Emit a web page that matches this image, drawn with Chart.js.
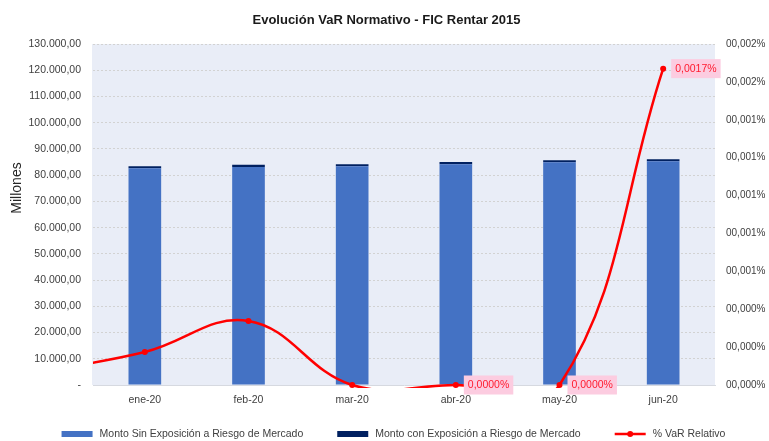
<!DOCTYPE html>
<html><head><meta charset="utf-8">
<script src="https://cdn.jsdelivr.net/npm/chart.js@4.4.0/dist/chart.umd.min.js"></script>
<style>html,body{margin:0;padding:0;background:#fff}#wrap{width:769px;height:441px;position:relative}</style>
</head><body><div id="wrap"><canvas id="c" width="769" height="441"></canvas></div>
<script>
// ---- data ----
const months = ['dic-19','ene-20','feb-20','mar-20','abr-20','may-20','jun-20'];
const firstVisibleMonth = 'ene-20';
const montoSinExposicion = [null, 82650, 83100, 83420, 84200, 84880, 85260];
const montoConExposicion = [null, 700, 880, 720, 820, 780, 780];
const varRelativo = [0.00007, 0.000174, 0.000338, 0, 0, 0, 0.00167]; // percent
const labeledMonths = ['abr-20','may-20','jun-20'];
const seriesNames = ['Monto Sin Exposición a Riesgo de Mercado','Monto con Exposición a Riesgo de Mercado','% VaR Relativo'];
const chartTitle = 'Evolución VaR Normativo - FIC Rentar 2015';
const yTitle = 'Millones';
const leftAxis = {min: 0, max: 130000, step: 10000};
const rightAxis = {min: 0, max: 0.0018, step: 0.0002};

// ---- styling ----
const FONT = "'Liberation Sans', Arial, sans-serif";
const TXT = '#404040';
const C_SIN = '#4472C4', C_CON = '#002060', C_VAR = '#FF0000';
Chart.defaults.font.family = FONT;

function fmtMiles(v){
  if (v === 0) return '-';
  const s = Math.round(v).toString().replace(/\B(?=(\d{3})+(?!\d))/g, '.');
  return s + ',00';
}
function fmtPctAxis(v){ return '0' + v.toFixed(3).replace('.', ',') + '%'; }
function fmtPctLabel(v){ return v.toFixed(4).replace('.', ',') + '%'; }

const plotBg = {
  id: 'plotBg',
  beforeDraw(chart){
    const {ctx, chartArea: a} = chart;
    ctx.save(); ctx.fillStyle = '#E9EDF7';
    ctx.fillRect(a.left - 1, a.top, a.right - a.left + 1, a.bottom - a.top);
    ctx.restore();
  }
};

const texts = {
  id: 'texts',
  afterDraw(chart){
    const {ctx} = chart;
    ctx.save();
    // title
    ctx.font = 'bold 13px ' + FONT;
    ctx.fillStyle = '#1a1a1a';
    ctx.textAlign = 'center'; ctx.textBaseline = 'middle';
    ctx.fillText(chartTitle, chart.width / 2 + 2, 20);
    // y axis title
    ctx.save();
    ctx.translate(17, 188); ctx.rotate(-Math.PI / 2);
    ctx.font = '14px ' + FONT; ctx.fillStyle = '#262626';
    ctx.fillText(yTitle, 0, 0);
    ctx.restore();
    // legend
    ctx.font = '10.5px ' + FONT;
    const symW = 31, gapT = 7, gapI = 34;
    const widths = seriesNames.map(n => ctx.measureText(n).width);
    const total = widths.reduce((s, w) => s + symW + gapT + w, 0) + gapI * (seriesNames.length - 1);
    let x = (chart.width - total) / 2 + 9;
    const y = 434;
    const colors = [C_SIN, C_CON, C_VAR];
    seriesNames.forEach((n, i) => {
      if (i < 2) {
        ctx.fillStyle = colors[i];
        ctx.fillRect(x, y - 3, symW, 6);
      } else {
        ctx.strokeStyle = C_VAR; ctx.lineWidth = 2.5;
        ctx.beginPath(); ctx.moveTo(x, y); ctx.lineTo(x + symW, y); ctx.stroke();
        ctx.fillStyle = C_VAR;
        ctx.beginPath(); ctx.arc(x + symW / 2, y, 3, 0, Math.PI * 2); ctx.fill();
      }
      ctx.fillStyle = TXT; ctx.textAlign = 'left'; ctx.textBaseline = 'middle';
      ctx.fillText(n, x + symW + gapT, y);
      x += symW + gapT + widths[i] + gapI;
    });
    ctx.restore();
  }
};

const dataLabels = {
  id: 'dataLabels',
  afterDatasetsDraw(chart){
    const {ctx} = chart;
    const meta = chart.getDatasetMeta(0);
    ctx.save();
    ctx.font = '10.5px ' + FONT;
    ctx.textAlign = 'left'; ctx.textBaseline = 'middle';
    months.forEach((m, i) => {
      if (!labeledMonths.includes(m)) return;
      const p = meta.data[i];
      if (!p) return;
      const txt = fmtPctLabel(varRelativo[i]);
      const w = ctx.measureText(txt).width + 8;
      const bx = p.x + 8, by = p.y - 9.5;
      ctx.fillStyle = '#FCCCE0';
      ctx.fillRect(bx, by, w, 19);
      ctx.fillStyle = '#FF1A2E';
      ctx.fillText(txt, bx + 4, p.y + 0.5);
    });
    ctx.restore();
  }
};

new Chart(document.getElementById('c'), {
  data: {
    labels: months,
    datasets: [
      {type: 'line', label: seriesNames[2], data: varRelativo, yAxisID: 'y1', order: 0,
       borderColor: C_VAR, backgroundColor: C_VAR, borderWidth: 2.5, tension: 0.4,
       capBezierPoints: false,
       pointRadius: 3, pointBackgroundColor: C_VAR, pointBorderWidth: 0,
       clip: {left: 0, top: 10, right: 10, bottom: 3}},
      {type: 'bar', label: seriesNames[0], data: montoSinExposicion, yAxisID: 'y', order: 1,
       backgroundColor: C_SIN, barPercentage: 1, categoryPercentage: 0.315},
      {type: 'bar', label: seriesNames[1], data: montoConExposicion, yAxisID: 'y', order: 1,
       backgroundColor: C_CON, barPercentage: 1, categoryPercentage: 0.315}
    ]
  },
  options: {
    responsive: false, animation: false,
    layout: {padding: {top: 44, bottom: 30, left: 0, right: 0}},
    elements: {line: {capBezierPoints: false}},
    plugins: {legend: {display: false}, tooltip: {enabled: false}, title: {display: false}},
    scales: {
      x: {stacked: true, min: firstVisibleMonth, offset: true,
          grid: {display: false, drawTicks: false},
          border: {display: true, color: '#D6D9E0', width: 1},
          ticks: {color: TXT, font: {size: 10.5}, padding: 9, maxRotation: 0},
          afterFit(s){ s.height = 26; }},
      y: {stacked: true, position: 'left', min: leftAxis.min, max: leftAxis.max,
          ticks: {stepSize: leftAxis.step, callback: v => fmtMiles(v), color: TXT, font: {size: 10.5}, padding: 12},
          grid: {color: '#D2D2D2', lineWidth: 1, drawTicks: false, borderDash: [2, 2]},
          border: {display: false, dash: [2, 2]},
          afterFit(s){ s.width = 93; }},
      y1: {position: 'right', min: rightAxis.min, max: rightAxis.max,
          ticks: {stepSize: rightAxis.step, callback: v => fmtPctAxis(v), color: TXT, font: {size: 10}, padding: 11},
          grid: {display: false, drawTicks: false},
          border: {display: false},
          afterFit(s){ s.width = 54; }}
    }
  },
  plugins: [plotBg, dataLabels, texts]
});
</script>
</body></html>
